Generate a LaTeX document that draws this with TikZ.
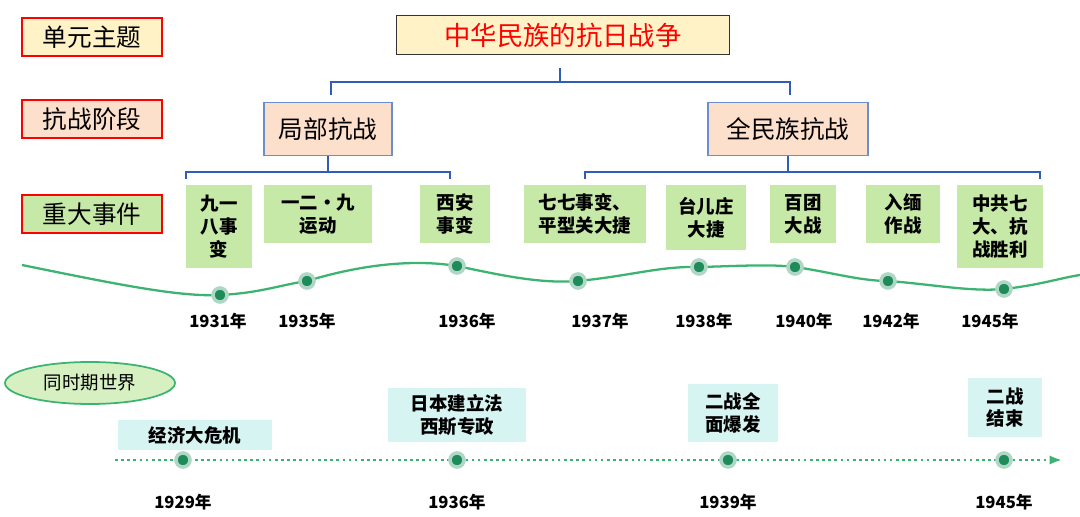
\documentclass[tikz,border=0pt]{standalone}
\usepackage{fontspec}
\setmainfont{Noto Sans CJK SC}
\newcommand\cjkb{\bfseries}
\usetikzlibrary{arrows.meta,shapes.geometric}
\tikzset{>=Latex}
\definecolor{evgreen}{HTML}{C6E9A8}
\definecolor{lineg}{HTML}{3CB371}
\definecolor{dotg}{HTML}{1E8B5A}
\definecolor{peach}{HTML}{FCE0CC}
\definecolor{cream}{HTML}{FFF2C6}
\definecolor{cyanl}{HTML}{D6F4F2}
\definecolor{bracketb}{HTML}{2F5DB8}
\tikzset{
  rowbox/.style={draw=red,line width=1pt,minimum width=140*0.02cm,minimum height=38*0.02cm,font=\fontsize{14}{16}\selectfont},
  stage/.style={draw=bracketb!70,fill=peach,line width=0.8pt,inner sep=0pt,font=\fontsize{14}{16}\selectfont},
  event/.style={fill=evgreen,inner sep=0pt,align=center,font=\cjkb\fontsize{10.5}{13}\selectfont},
  world/.style={fill=cyanl,inner sep=0pt,align=center,font=\cjkb\fontsize{10.5}{13}\selectfont},
  bracket/.style={draw=bracketb,line width=1.2pt},
  tdot/.style={circle,fill=dotg,draw=dotg!35,line width=2pt,inner sep=0pt,minimum size=8pt},
  year/.style={font=\cjkb\fontsize{9.5}{11}\selectfont}
}
\begin{document}
\begin{tikzpicture}[x=0.02cm,y=-0.02cm]
  \useasboundingbox (0,0) rectangle (1080,517);
  % row labels
  \node[rowbox,fill=cream] (theme) at (92,37) {单元主题};
  \node[rowbox,fill=peach] (phase) at (92,119) {抗战阶段};
  \node[rowbox,fill=evgreen] (evts) at (92,214) {重大事件};
  \node[draw=black!80,fill=cream,line width=0.8pt,minimum width=333*0.02cm,minimum height=39*0.02cm,text=red,font=\fontsize{15}{18}\selectfont] (title) at (563,35) {中华民族的抗日战争};
  % stages
  \node[stage,minimum width=128*0.02cm,minimum height=53*0.02cm] (local) at (328,129) {局部抗战};
  \node[stage,minimum width=160*0.02cm,minimum height=53*0.02cm] (whole) at (788,129) {全民族抗战};
  \draw[bracket] (331,95) -- (331,82) -- (790,82) -- (790,95);
  \draw[bracket] (560,82) -- (560,68);
  \draw[bracket] (186,179) -- (186,172) -- (450,172) -- (450,179);
  \draw[bracket] (local.south) -- (328,172);
  \draw[bracket] (585,179) -- (585,172) -- (1040,172) -- (1040,179);
  \draw[bracket] (whole.south) -- (788,172);
  % events
  \node[event,minimum width=66*0.02cm,minimum height=83*0.02cm] (e1) at (219,226.5) {九一\\八事\\变};
  \node[event,minimum width=108*0.02cm,minimum height=58*0.02cm] (e2) at (318,214) {一二·九\\运动};
  \node[event,minimum width=70*0.02cm,minimum height=58*0.02cm] (e3) at (455,214) {西安\\事变};
  \node[event,minimum width=122*0.02cm,minimum height=58*0.02cm] (e4) at (585,214) {七七事变、\\平型关大捷};
  \node[event,minimum width=80*0.02cm,minimum height=65*0.02cm] (e5) at (706,217.5) {台儿庄\\大捷};
  \node[event,minimum width=66*0.02cm,minimum height=58*0.02cm] (e6) at (803,214) {百团\\大战};
  \node[event,minimum width=74*0.02cm,minimum height=58*0.02cm] (e7) at (903,214) {入缅\\作战};
  \node[event,minimum width=86*0.02cm,minimum height=83*0.02cm] (e8) at (1000,226.5) {中共七\\大、抗\\战胜利};
  % timeline curve
  \draw[lineg,line width=1.3pt] (22,265) .. controls (120,285) and (180,297) .. (220,295)
    .. controls (260,293) and (280,285) .. (307,281)
    .. controls (370,262) and (420,260) .. (457,266)
    .. controls (500,275) and (540,284) .. (578,281)
    .. controls (630,276) and (660,266) .. (699,267)
    .. controls (740,266) and (770,264) .. (795,267)
    .. controls (830,272) and (860,281) .. (888,281)
    .. controls (930,284) and (970,292) .. (1004,289)
    .. controls (1040,285) and (1060,278) .. (1080,275);
  \foreach \x/\y/\yr in {220/295/1931,307/281/1935,457/266/1936,578/281/1937,699/267/1938,795/267/1940,888/281/1942,1004/289/1945}
    \node[tdot] (d\yr) at (\x,\y) {};
  \foreach \x/\yr in {218/1931,307/1935,467/1936,600/1937,704/1938,804/1940,891/1942,990/1945}
    \node[year] (y\yr) at (\x,321) {\yr 年};
  % world
  \node[ellipse,draw=lineg,fill=evgreen!70,line width=1pt,minimum width=170*0.02cm,minimum height=42*0.02cm,font=\fontsize{10.5}{13}\selectfont] (worldlbl) at (90,383) {同时期世界};
  \node[world,minimum width=154*0.02cm,minimum height=30*0.02cm] (w1) at (195,435) {经济大危机};
  \node[world,minimum width=138*0.02cm,minimum height=54*0.02cm] (w2) at (457,415) {日本建立法\\西斯专政};
  \node[world,minimum width=90*0.02cm,minimum height=58*0.02cm] (w3) at (733,413) {二战全\\面爆发};
  \node[world,minimum width=74*0.02cm,minimum height=59*0.02cm] (w4) at (1005,407.5) {二战\\结束};
  \coordinate (ws) at (115,460);
  \coordinate (we) at (1062,460);
  \draw[lineg,line width=1.5pt,dotted,-{Latex[length=7pt]}] (ws) -- (we);
  \foreach \x/\yr in {183/1929,457/1936,728/1939,1004/1945}{
    \node[tdot] (wd\yr) at (\x,460) {};
    \node[year] (wy\yr) at (\x,502) {\yr 年};
  }
\end{tikzpicture}
\end{document}
